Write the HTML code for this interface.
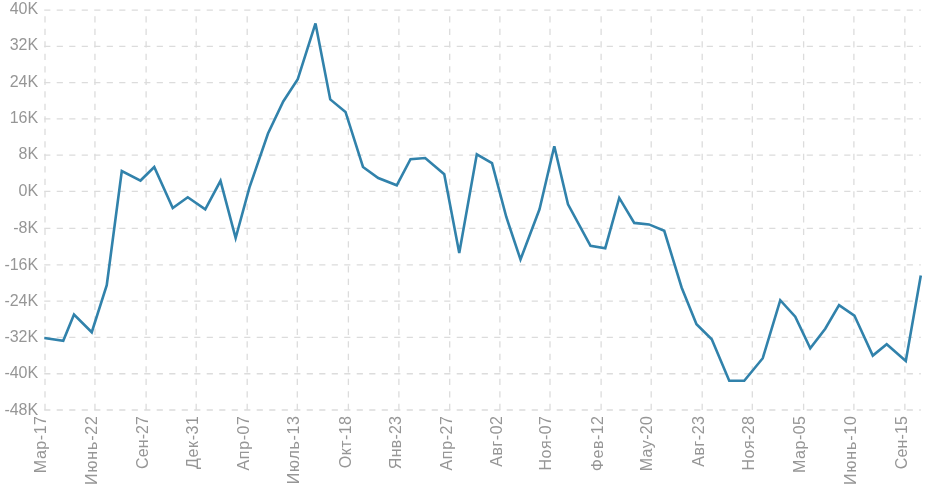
<!DOCTYPE html>
<html lang="ru">
<head>
<meta charset="utf-8">
<title>Chart</title>
<style>
html,body{margin:0;padding:0;background:#fff;}
body{width:940px;height:493px;overflow:hidden;}
svg{display:block;}
svg text{font-family:"Liberation Sans","DejaVu Sans",sans-serif;font-size:16px;fill:#969696;}
.g line{stroke:#dcdcdc;stroke-width:1.3;stroke-dasharray:6.2 6.3;fill:none;}
</style>
</head>
<body>
<svg width="940" height="493" viewBox="0 0 940 493">
<rect x="0" y="0" width="940" height="493" fill="#ffffff"/>
<g class="g">
<line x1="44.20" y1="10.15" x2="920.80" y2="10.15"/>
<line x1="44.20" y1="46.30" x2="920.80" y2="46.30"/>
<line x1="44.20" y1="82.60" x2="920.80" y2="82.60"/>
<line x1="44.20" y1="118.85" x2="920.80" y2="118.85"/>
<line x1="44.20" y1="155.15" x2="920.80" y2="155.15"/>
<line x1="44.20" y1="191.30" x2="920.80" y2="191.30"/>
<line x1="44.20" y1="228.45" x2="920.80" y2="228.45"/>
<line x1="44.20" y1="264.80" x2="920.80" y2="264.80"/>
<line x1="44.20" y1="301.10" x2="920.80" y2="301.10"/>
<line x1="44.20" y1="337.45" x2="920.80" y2="337.45"/>
<line x1="44.20" y1="373.75" x2="920.80" y2="373.75"/>
<line x1="44.20" y1="410.00" x2="920.80" y2="410.00"/>
<line x1="45.00" y1="410.00" x2="45.00" y2="10.15"/>
<line x1="94.95" y1="410.00" x2="94.95" y2="10.15"/>
<line x1="146.10" y1="410.00" x2="146.10" y2="10.15"/>
<line x1="196.20" y1="410.00" x2="196.20" y2="10.15"/>
<line x1="247.20" y1="410.00" x2="247.20" y2="10.15"/>
<line x1="297.30" y1="410.00" x2="297.30" y2="10.15"/>
<line x1="348.40" y1="410.00" x2="348.40" y2="10.15"/>
<line x1="398.90" y1="410.00" x2="398.90" y2="10.15"/>
<line x1="449.70" y1="410.00" x2="449.70" y2="10.15"/>
<line x1="499.90" y1="410.00" x2="499.90" y2="10.15"/>
<line x1="550.00" y1="410.00" x2="550.00" y2="10.15"/>
<line x1="601.10" y1="410.00" x2="601.10" y2="10.15"/>
<line x1="651.20" y1="410.00" x2="651.20" y2="10.15"/>
<line x1="702.20" y1="410.00" x2="702.20" y2="10.15"/>
<line x1="752.30" y1="410.00" x2="752.30" y2="10.15"/>
<line x1="803.60" y1="410.00" x2="803.60" y2="10.15"/>
<line x1="853.90" y1="410.00" x2="853.90" y2="10.15"/>
<line x1="904.85" y1="410.00" x2="904.85" y2="10.15"/>
</g>
<g text-anchor="end">
<text x="38.2" y="14.30">40K</text>
<text x="38.2" y="50.40">32K</text>
<text x="38.2" y="86.70">24K</text>
<text x="38.2" y="122.75">16K</text>
<text x="38.2" y="159.30">8K</text>
<text x="38.2" y="195.50">0K</text>
<text x="38.2" y="232.65">-8K</text>
<text x="38.2" y="269.90">-16K</text>
<text x="38.2" y="305.60">-24K</text>
<text x="38.2" y="342.05">-32K</text>
<text x="38.2" y="378.25">-40K</text>
<text x="38.2" y="414.50">-48K</text>
</g>
<g text-anchor="end">
<text transform="translate(45.95,416.0) rotate(-90)" textLength="57.15" lengthAdjust="spacing">Мар-17</text>
<text transform="translate(96.85,416.0) rotate(-90)" textLength="68.90" lengthAdjust="spacing">Июнь-22</text>
<text transform="translate(148.40,416.0) rotate(-90)" textLength="52.90" lengthAdjust="spacing">Сен-27</text>
<text transform="translate(197.50,416.0) rotate(-90)" textLength="52.90" lengthAdjust="spacing">Дек-31</text>
<text transform="translate(248.70,416.0) rotate(-90)" textLength="54.40" lengthAdjust="spacing">Апр-07</text>
<text transform="translate(298.80,416.0) rotate(-90)" textLength="68.15" lengthAdjust="spacing">Июль-13</text>
<text transform="translate(350.60,416.0) rotate(-90)" textLength="52.15" lengthAdjust="spacing">Окт-18</text>
<text transform="translate(400.80,416.0) rotate(-90)" textLength="53.15" lengthAdjust="spacing">Янв-23</text>
<text transform="translate(451.70,416.0) rotate(-90)" textLength="54.40" lengthAdjust="spacing">Апр-27</text>
<text transform="translate(501.80,416.0) rotate(-90)" textLength="50.65" lengthAdjust="spacing">Авг-02</text>
<text transform="translate(551.00,416.0) rotate(-90)" textLength="54.40" lengthAdjust="spacing">Ноя-07</text>
<text transform="translate(602.60,416.0) rotate(-90)" textLength="55.15" lengthAdjust="spacing">Фев-12</text>
<text transform="translate(652.10,416.0) rotate(-90)" textLength="55.15" lengthAdjust="spacing">May-20</text>
<text transform="translate(703.70,416.0) rotate(-90)" textLength="50.65" lengthAdjust="spacing">Авг-23</text>
<text transform="translate(753.80,416.0) rotate(-90)" textLength="54.40" lengthAdjust="spacing">Ноя-28</text>
<text transform="translate(805.10,416.0) rotate(-90)" textLength="56.90" lengthAdjust="spacing">Мар-05</text>
<text transform="translate(855.60,416.0) rotate(-90)" textLength="68.90" lengthAdjust="spacing">Июнь-10</text>
<text transform="translate(907.05,416.0) rotate(-90)" textLength="53.15" lengthAdjust="spacing">Сен-15</text>
</g>
<polyline fill="none" stroke="#3182ab" stroke-width="2.6" stroke-linejoin="miter" stroke-miterlimit="4" stroke-linecap="butt" points="44.30,338.00 63.25,340.75 74.00,314.60 91.75,332.25 106.75,285.25 121.80,171.10 140.50,180.55 154.25,167.00 172.75,208.00 187.75,197.25 205.25,209.25 220.50,180.80 235.65,238.00 249.40,187.70 268.00,133.50 283.25,101.50 297.75,79.25 315.50,23.40 330.25,99.40 345.50,111.90 363.00,167.00 378.25,178.00 396.75,185.25 410.50,159.25 425.20,158.00 444.25,174.25 459.25,253.00 476.80,154.30 492.00,163.20 506.30,217.00 520.50,259.50 539.50,209.30 554.30,146.30 568.00,204.30 590.50,245.75 605.25,248.20 619.25,197.90 634.25,222.90 649.00,224.40 664.25,230.75 681.60,287.50 696.50,324.25 711.75,339.25 729.25,380.75 744.25,380.75 762.75,358.25 780.25,300.25 795.25,316.75 810.25,348.25 825.25,328.75 839.05,305.20 854.40,315.55 872.80,355.60 886.70,344.20 905.80,361.00 920.80,275.50"/>
</svg>
</body>
</html>
